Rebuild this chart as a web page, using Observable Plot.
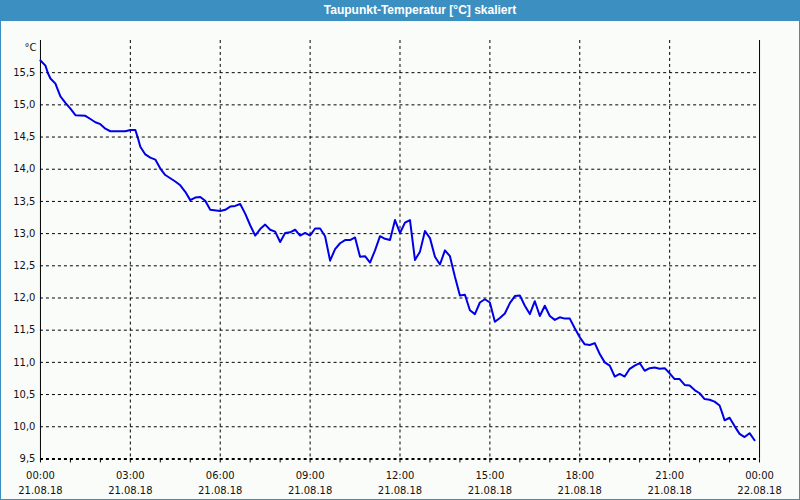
<!DOCTYPE html>
<html><head><meta charset="utf-8">
<script src="https://cdn.jsdelivr.net/npm/d3@7"></script>
<script src="https://cdn.jsdelivr.net/npm/@observablehq/plot@0.6"></script>
<style>
html,body{margin:0;padding:0;background:#fafcfa;}
#win{position:relative;width:800px;height:500px;box-sizing:border-box;border:1px solid #3c8fc1;border-top:none;background:#fafcfa;overflow:hidden}
#title{position:absolute;left:-1px;top:0;width:800px;height:21px;box-sizing:border-box;padding-left:40px;background:#3c8fc1;color:#fff;font:bold 12px "Liberation Sans";line-height:21px;text-align:center;}
#chart{position:absolute;left:-1px;top:20px}
</style></head>
<body>
<div id="win"><div id="title">Taupunkt-Temperatur [°C] skaliert</div><div id="chart"></div></div>
<script>
const day = "2018-08-21";
const times = ["00:00","00:10","00:15","00:20","00:30","00:35","00:40","00:50","01:00","01:10","01:30","01:40","01:50","02:00","02:10","02:20","02:50","03:00","03:10","03:15","03:20","03:30","03:40","03:50","04:00","04:10","04:20","04:30","04:40","04:50","05:00","05:10","05:20","05:30","05:40","06:00","06:10","06:20","06:30","06:40","06:50","07:00","07:10","07:20","07:30","07:40","07:50","08:00","08:10","08:20","08:30","08:40","08:50","09:00","09:10","09:20","09:30","09:40","09:50","10:00","10:10","10:20","10:30","10:40","10:50","11:00","11:10","11:20","11:30","11:40","11:50","12:00","12:10","12:20","12:30","12:40","12:50","13:00","13:10","13:20","13:30","13:40","13:50","14:00","14:10","14:20","14:30","14:40","14:50","15:00","15:10","15:20","15:30","15:40","15:50","16:00","16:10","16:20","16:30","16:40","16:50","17:00","17:10","17:20","17:30","17:40","17:50","18:00","18:10","18:20","18:30","18:40","18:50","19:00","19:10","19:20","19:30","19:40","19:50","20:00","20:10","20:20","20:30","20:40","20:50","21:00","21:10","21:20","21:30","21:40","21:50","22:00","22:10","22:20","22:30","22:40","22:45","22:50","23:00","23:10","23:20","23:30","23:40","23:50"];
const dewPoint = [15.69,15.61,15.49,15.41,15.33,15.23,15.13,15.03,14.94,14.84,14.83,14.78,14.73,14.70,14.63,14.59,14.59,14.61,14.61,14.49,14.35,14.23,14.18,14.15,14.01,13.91,13.86,13.81,13.75,13.65,13.52,13.56,13.57,13.51,13.37,13.35,13.37,13.42,13.43,13.46,13.31,13.13,12.97,13.07,13.14,13.06,13.03,12.87,13.01,13.02,13.06,12.97,13.01,12.97,13.08,13.08,12.96,12.58,12.76,12.85,12.90,12.90,12.94,12.64,12.65,12.55,12.74,12.96,12.92,12.90,13.21,13.01,13.17,13.21,12.59,12.72,13.04,12.93,12.64,12.52,12.74,12.65,12.33,12.04,12.05,11.81,11.75,11.93,11.98,11.93,11.63,11.69,11.76,11.92,12.03,12.04,11.88,11.75,11.95,11.72,11.88,11.72,11.66,11.70,11.68,11.68,11.53,11.39,11.28,11.27,11.30,11.13,11.00,10.95,10.78,10.82,10.78,10.90,10.95,10.99,10.87,10.91,10.92,10.90,10.91,10.83,10.74,10.74,10.65,10.64,10.57,10.52,10.43,10.42,10.39,10.33,10.22,10.10,10.14,10.01,9.89,9.84,9.90,9.79];
const yTicks = [9.5,10,10.5,11,11.5,12,12.5,13,13.5,14,14.5,15,15.5];
const xTickTimes = ["2018-08-21T00:00Z","2018-08-21T03:00Z","2018-08-21T06:00Z","2018-08-21T09:00Z","2018-08-21T12:00Z","2018-08-21T15:00Z","2018-08-21T18:00Z","2018-08-21T21:00Z","2018-08-22T00:00Z"];
const yLabel = "°C";

const data = times.map((t, i) => ({time: new Date(`${day}T${t}Z`), value: dewPoint[i]}));
const xTicks = xTickTimes.map(s => new Date(s));
const xStart = xTicks[0], xEnd = xTicks[xTicks.length - 1];
const hourTicks = d3.utcHour.range(xStart, new Date(+xEnd + 1));
const fmtT = d3.utcFormat("%H:%M"), fmtD = d3.utcFormat("%d.%m.%y");

const chart = Plot.plot({
  width: 800, height: 480,
  marginLeft: 40, marginRight: 40, marginTop: 20, marginBottom: 41,
  style: {background: "transparent", fontFamily: "DejaVu Sans", fontSize: "10px", color: "#111", overflow: "visible"},
  x: {type: "utc", domain: [xStart, xEnd]},
  y: {domain: [9.5, 16]},
  marks: [
    Plot.gridY({ticks: yTicks.slice(1), stroke: "#000", strokeOpacity: 1, strokeDasharray: "3,3"}),
    Plot.gridX({ticks: xTicks.slice(1, -1), stroke: "#000", strokeOpacity: 1, strokeDasharray: "3,3"}),
    Plot.ruleY([9.5], {stroke: "#000", strokeWidth: 2, strokeDasharray: "3,3"}),
    Plot.ruleX([xStart, xEnd], {stroke: "#000"}),
    Plot.axisX({ticks: hourTicks, tickSize: 4, tickFormat: () => "", label: null, stroke: "#000"}),
    Plot.axisX({ticks: xTicks, tickSize: 0, tickPadding: 9, lineHeight: 1.5, label: null, fill: "#111",
      tickFormat: d => fmtT(d) + "\n" + fmtD(d)}),
    Plot.axisY({ticks: yTicks, tickSize: 0, tickPadding: 5, label: null, fill: "#111",
      tickFormat: d => d.toFixed(1).replace(".", ",")}),
    Plot.text([yLabel], {text: d => d, frameAnchor: "top-left", dx: -4, dy: 3, textAnchor: "end", fill: "#111"}),
    Plot.line(data, {x: "time", y: "value", stroke: "#0000e6", strokeWidth: 2})
  ]
});
document.getElementById("chart").appendChild(chart);
</script>
</body></html>
